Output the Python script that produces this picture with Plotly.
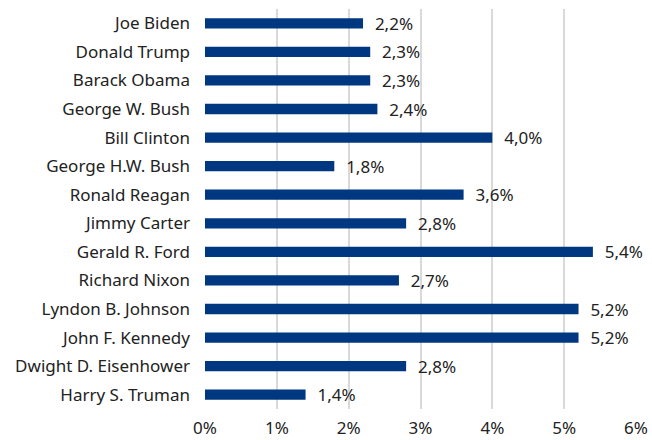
import plotly.graph_objects as go

presidents = ["Joe Biden", "Donald Trump", "Barack Obama", "George W. Bush", "Bill Clinton",
              "George H.W. Bush", "Ronald Reagan", "Jimmy Carter", "Gerald R. Ford",
              "Richard Nixon", "Lyndon B. Johnson", "John F. Kennedy",
              "Dwight D. Eisenhower", "Harry S. Truman"]
growth = [2.2, 2.3, 2.3, 2.4, 4.0, 1.8, 3.6, 2.8, 5.4, 2.7, 5.2, 5.2, 2.8, 1.4]
tick_vals = [0, 1, 2, 3, 4, 5, 6]
tick_text = ["0%", "1%", "2%", "3%", "4%", "5%", "6%"]

labels = ["  " + f"{v:.1f}".replace(".", ",") + "%" for v in growth]

FONT = "Noto Sans, Open Sans, sans-serif"

fig = go.Figure(go.Bar(
    x=growth, y=presidents, orientation="h",
    marker=dict(color="#003781", line=dict(width=0)),
    text=labels, textposition="outside", cliponaxis=False,
    constraintext="none",
    textfont=dict(family=FONT, size=17, color="#222222"),
    width=0.36,
))

fig.update_layout(
    width=652, height=440,
    margin=dict(l=205, r=16, t=9, b=31),
    plot_bgcolor="white", paper_bgcolor="white",
    font=dict(family=FONT, size=17, color="#222222"),
    showlegend=False,
)
fig.update_xaxes(range=[0, 6], tickvals=tick_vals, ticktext=tick_text,
                 showgrid=True, gridcolor="#d9d9d9", gridwidth=1.5,
                 zeroline=False, showline=False, ticklabelstandoff=7,
                 automargin=False, fixedrange=True)
fig.update_yaxes(autorange="reversed", showgrid=False, showline=False,
                 ticklabelstandoff=14, automargin=False, fixedrange=True)

fig.write_html("out.html", config={"displayModeBar": False},
               post_script="document.body.style.margin='0';")
